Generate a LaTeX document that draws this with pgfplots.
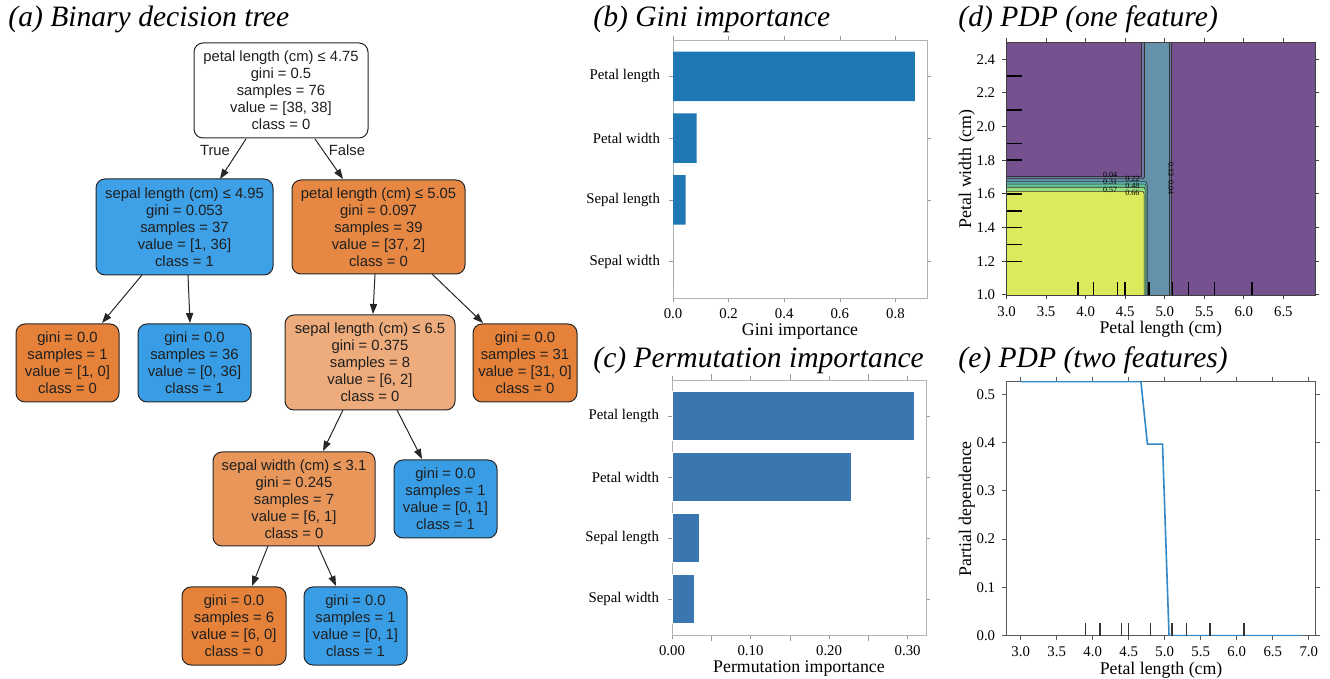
\documentclass[border=0pt]{standalone}
\usepackage{pgfplots}
\pgfplotsset{compat=1.18}
\usepackage{fontspec}
\setmainfont{Liberation Serif}
\newfontfamily\treefont{Liberation Sans}
\usetikzlibrary{arrows.meta}

% bar and line colours
\definecolor{tabblue}{HTML}{1F77B4}
\definecolor{permblue}{HTML}{3A76AF}
\definecolor{pdpline}{HTML}{3287C6}
% decision-tree node colours (class 0 orange, class 1 blue, shaded by purity)
\definecolor{skorange}{HTML}{E58139}
\definecolor{skblue}{HTML}{399DE5}
\definecolor{orA}{HTML}{E68844}
\definecolor{orB}{HTML}{EEAB7B}
\definecolor{orC}{HTML}{E9965A}
\definecolor{blA}{HTML}{3EA0E6}
% viridis bands at alpha 0.75
\definecolor{vOne}{RGB}{117,82,143}
\definecolor{vTwo}{RGB}{111,118,166}
\definecolor{vThree}{RGB}{99,146,170}
\definecolor{vFour}{RGB}{89,172,169}
\definecolor{vFive}{RGB}{101,197,156}
\definecolor{vSix}{RGB}{149,218,127}
\definecolor{vSeven}{RGB}{220,233,92}

\pgfplotsset{
  every axis/.append style={
    scale only axis, anchor=north west,
    tick label style={font=\fontsize{7.4}{8}\selectfont},
    label style={font=\fontsize{8.9}{10}\selectfont},
    /pgf/number format/assume math mode=true,
    tick align=outside,
    major tick length=2pt,
    xlabel shift=-4.5pt,
  },
  barpanel/.style={
    xbar, bar width=0.8,
    ymin=-0.59, ymax=3.59, xmin=0,
    ytick={0,1,2,3},
    yticklabels={Sepal width, Sepal length, Petal width, Petal length},
    axis line style={black!30},
    tick style={black!40},
    y tick label style={xshift=-1pt},
  },
  pdppanel/.style={
    axis line style={black!75},
    tick style={black!75, line width=0.5pt},
    major tick length=2.2pt,
    ylabel shift=-6pt,
  },
}

\newcommand{\tnode}[6]{%
  \node[draw=black!85, line width=0.5pt, rounded corners=4.5pt, fill=#5,
        minimum width=#3, minimum height=#4, inner sep=0pt, align=center,
        text=black!88, font=\treefont\fontsize{7.4}{8.5}\selectfont]
        at (#1,#2) {#6};}

\begin{document}
\begin{tikzpicture}
\path[use as bounding box] (0,0) rectangle (665pt,-339.5pt);

% ---------------- (a) decision tree ----------------
\begin{scope}[x=0.5pt, y=-0.5pt]
\tikzset{ptitle/.style={anchor=base west, inner sep=0pt, font=\fontsize{14.8}{18}\selectfont\itshape}}
\node[ptitle] at (8,27) {(a) Binary decision tree};

\tnode{281}{90.5}{87pt}{47.5pt}{white}{petal length (cm) ≤ 4.75\\gini = 0.5\\samples = 76\\value = [38, 38]\\class = 0}
\tnode{184.5}{227}{88.5pt}{48pt}{blA}{sepal length (cm) ≤ 4.95\\gini = 0.053\\samples = 37\\value = [1, 36]\\class = 1}
\tnode{378.5}{227}{86.5pt}{47pt}{orA}{petal length (cm) ≤ 5.05\\gini = 0.097\\samples = 39\\value = [37, 2]\\class = 0}
\tnode{67.5}{363}{51.5pt}{39pt}{skorange}{gini = 0.0\\samples = 1\\value = [1, 0]\\class = 0}
\tnode{194.5}{363}{56.5pt}{39pt}{skblue}{gini = 0.0\\samples = 36\\value = [0, 36]\\class = 1}
\tnode{370}{362.5}{85pt}{47.5pt}{orB}{sepal length (cm) ≤ 6.5\\gini = 0.375\\samples = 8\\value = [6, 2]\\class = 0}
\tnode{525}{363}{52pt}{39pt}{skorange}{gini = 0.0\\samples = 31\\value = [31, 0]\\class = 0}
\tnode{294}{499}{81pt}{47pt}{orC}{sepal width (cm) ≤ 3.1\\gini = 0.245\\samples = 7\\value = [6, 1]\\class = 0}
\tnode{445.5}{499}{51.5pt}{39pt}{skblue}{gini = 0.0\\samples = 1\\value = [0, 1]\\class = 1}
\tnode{234}{626}{52pt}{39pt}{skorange}{gini = 0.0\\samples = 6\\value = [6, 0]\\class = 0}
\tnode{355.5}{626}{51.5pt}{39pt}{skblue}{gini = 0.0\\samples = 1\\value = [0, 1]\\class = 1}

\begin{scope}[black!85, line width=0.5pt, -{Triangle[length=5pt, width=3.6pt]}]
\draw (246,139) -- (220,179);
\draw (315,139) -- (343,179);
\draw (142,275) -- (102,323);
\draw (188,275) -- (190,323);
\draw (375,274) -- (373,314);
\draw (432,274) -- (483,323);
\draw (343,410) -- (323,451);
\draw (397,410) -- (422,459);
\draw (268,546) -- (252,586);
\draw (318,546) -- (336,586);
\end{scope}
\node[font=\treefont\fontsize{7.4}{8.5}\selectfont, text=black!88] at (215,150) {True};
\node[font=\treefont\fontsize{7.4}{8.5}\selectfont, text=black!88] at (347,150) {False};

% panel titles
\node[ptitle] at (593,27) {(b) Gini importance};
\node[ptitle] at (958,27) {(d) PDP (one feature)};
\node[ptitle] at (593,368) {(c) Permutation importance};
\node[ptitle] at (958,368) {(e) PDP (two features)};
\end{scope}

% ---------------- (b) Gini importance ----------------
\begin{axis}[at={(336.5pt,-20pt)}, width=127pt, height=129pt, barpanel,
  xmax=0.9135, xtick={0,0.2,0.4,0.6,0.8},
  xticklabel style={/pgf/number format/.cd, fixed, fixed zerofill, precision=1},
  xlabel={Gini importance}]
\addplot[fill=tabblue, draw=none] coordinates {(0.870,3) (0.085,2) (0.045,1) (0,0)};
\end{axis}

% ---------------- (c) Permutation importance ----------------
\begin{axis}[at={(336pt,-190pt)}, width=127pt, height=127.5pt, barpanel,
  xmax=0.3234, xtick={0,0.1,0.2,0.3}, minor xtick={0.05,0.15,0.25},
  xticklabel style={/pgf/number format/.cd, fixed, fixed zerofill, precision=2},
  xlabel={Permutation importance}]
\addplot[fill=permblue, draw=white, line width=0.3pt] coordinates {(0.308,3) (0.228,2) (0.0345,1) (0.029,0)};
\end{axis}

% ---------------- (d) contour ----------------
\begin{axis}[at={(503.3pt,-21.2pt)}, width=154.2pt, height=126.3pt, pdppanel,
  xmin=3, xmax=6.9, ymin=1, ymax=2.5, axis on top,
  xtick={3,3.5,4,4.5,5,5.5,6,6.5},
  ytick={1.0,1.2,1.4,1.6,1.8,2.0,2.2,2.4},
  xticklabel style={/pgf/number format/.cd, fixed, fixed zerofill, precision=1},
  yticklabel style={/pgf/number format/.cd, fixed, fixed zerofill, precision=1},
  xlabel={Petal length (cm)}, ylabel={Petal width (cm)}]
\addplot[fill=vOne, draw=none] coordinates {(2.9,0.9) (7,0.9) (7,2.6) (2.9,2.6)} -- cycle;
\addplot[fill=vTwo, draw=black!80, line width=0.4pt] coordinates {(2.9,0.9) (5.09,0.9) (5.09,2.6) (4.70,2.6) (4.70,1.705) (2.9,1.705)} -- cycle;
\addplot[fill=vThree, draw=black!80, line width=0.4pt] coordinates {(2.9,0.9) (5.06,0.9) (5.06,2.6) (4.745,2.6) (4.745,1.702) (4.73,1.690) (2.9,1.690)} -- cycle;
\addplot[fill=vFour, draw=black!80, line width=0.3pt] coordinates {(2.9,0.9) (4.78,0.9) (4.78,1.655) (4.76,1.675) (2.9,1.675)} -- cycle;
\addplot[fill=vFive, draw=black!80, line width=0.3pt] coordinates {(2.9,0.9) (4.765,0.9) (4.765,1.640) (4.75,1.658) (2.9,1.658)} -- cycle;
\addplot[fill=vSix, draw=black!80, line width=0.3pt] coordinates {(2.9,0.9) (4.752,0.9) (4.752,1.625) (4.74,1.640) (2.9,1.640)} -- cycle;
\addplot[fill=vSeven, draw=black!80, line width=0.3pt] coordinates {(2.9,0.9) (4.74,0.9) (4.74,1.600) (4.725,1.615) (2.9,1.615)} -- cycle;
% contour level labels, staggered in two columns
\begin{scope}[font=\fontsize{4}{4}\selectfont, inner sep=0pt]
\node at (axis cs:4.31,1.714) {0.04};
\node at (axis cs:4.59,1.692) {0.22};
\node at (axis cs:4.31,1.670) {0.31};
\node at (axis cs:4.59,1.648) {0.48};
\node at (axis cs:4.31,1.626) {0.57};
\node at (axis cs:4.59,1.604) {0.66};
\node[rotate=-90] at (axis cs:5.078,1.745) {0.13};
\node[rotate=-90] at (axis cs:5.078,1.640) {0.04};
\end{scope}
% deciles of the two features
\addplot[ycomb, black, line width=0.8pt] coordinates {(3.9,1.075) (4.1,1.075) (4.4,1.075) (4.5,1.075) (4.8,1.075) (5.1,1.075) (5.3,1.075) (5.63,1.075) (6.1,1.075)};
\addplot[xcomb, black, line width=0.8pt] coordinates {(3.19,1.2) (3.19,1.3) (3.19,1.4) (3.19,1.5) (3.19,1.6) (3.19,1.8) (3.19,1.9) (3.19,2.1) (3.19,2.3)};
\end{axis}

% ---------------- (e) partial dependence line ----------------
\begin{axis}[at={(503.3pt,-190.8pt)}, width=154.5pt, height=127pt, pdppanel,
  axis line style={black!65}, tick style={black!65},
  xmin=2.805, xmax=7.095, ymin=0, ymax=0.5266,
  xtick={3,3.5,4,4.5,5,5.5,6,6.5,7},
  ytick={0,0.1,0.2,0.3,0.4,0.5},
  xticklabel style={/pgf/number format/.cd, fixed, fixed zerofill, precision=1},
  yticklabel style={/pgf/number format/.cd, fixed, fixed zerofill, precision=1},
  xlabel={Petal length (cm)}, ylabel={Partial dependence}]
\addplot[pdpline, line width=0.8pt] coordinates {(3.0,0.5266) (4.67,0.5266) (4.76,0.397) (4.97,0.397) (5.06,0.0) (6.9,0.0)};
\addplot[ycomb, black!80, line width=0.8pt] coordinates {(3.9,0.0263) (4.1,0.0263) (4.4,0.0263) (4.5,0.0263) (4.8,0.0263) (5.1,0.0263) (5.3,0.0263) (5.63,0.0263) (6.1,0.0263)};
\end{axis}
\end{tikzpicture}
\end{document}
